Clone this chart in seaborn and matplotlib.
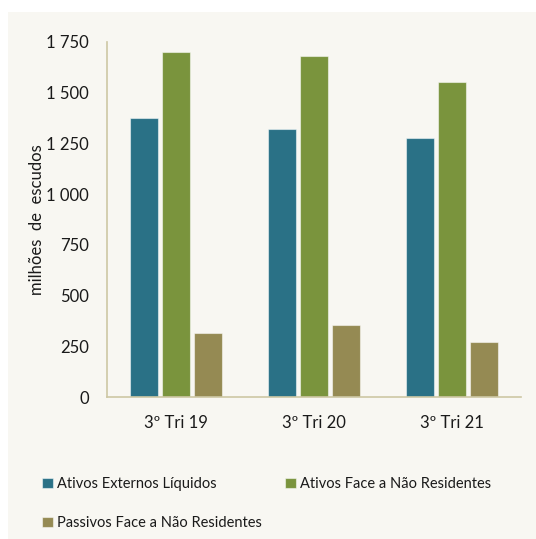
#!/usr/bin/env python3
"""Ativos externos líquidos — 3º trimestre, 2019-2021 (milhões de escudos)."""

import matplotlib
matplotlib.use("Agg")
import matplotlib.pyplot as plt
import pandas as pd
import seaborn as sns
from matplotlib.patches import Rectangle
from matplotlib.ticker import FuncFormatter

PERIODS = ["3º Tri 19", "3º Tri 20", "3º Tri 21"]
SERIES = [
    "Ativos Externos Líquidos",
    "Ativos Face a Não Residentes",
    "Passivos Face a Não Residentes",
]
ATIVOS_LIQUIDOS = [1377, 1321, 1278]
ATIVOS_NR = [1700, 1683, 1553]
PASSIVOS_NR = [317, 357, 273]
Y_TICKS = [0, 250, 500, 750, 1000, 1250, 1500, 1750]

COLORS = ["#2a7186", "#7a943d", "#958a53"]
BG = "#f8f7f2"
AXIS = "#cdc7a4"


def build_frame():
    rows = []
    for name, vals in zip(SERIES, [ATIVOS_LIQUIDOS, ATIVOS_NR, PASSIVOS_NR]):
        for period, v in zip(PERIODS, vals):
            rows.append({"periodo": period, "serie": name, "valor": v})
    return pd.DataFrame(rows)


def thousands(v, _pos):
    return f"{int(v):,}".replace(",", " ")


def main():
    sns.set_theme(style="white")
    plt.rcParams["font.family"] = ["Lato", "DejaVu Sans"]

    df = build_frame()
    fig = plt.figure(figsize=(5.36, 5.39), dpi=100, facecolor="white")
    fig.patches.append(Rectangle((8 / 536, 0), 1, 1 - 12 / 539, transform=fig.transFigure,
                                 facecolor=BG, edgecolor="none", zorder=-10))
    ax = fig.add_axes([107 / 536, 1 - 397 / 539, 414 / 536, 355 / 539])
    ax.set_facecolor(BG)

    sns.barplot(data=df, x="periodo", y="valor", hue="serie", order=PERIODS,
                hue_order=SERIES, palette=COLORS, width=0.7, gap=0.14,
                edgecolor=(1, 1, 1, 0.5), linewidth=0.8, saturation=1, ax=ax)

    ax.set_ylim(0, 1750)
    ax.set_xlim(-0.5, 2.5)
    ax.set_yticks(Y_TICKS)
    ax.yaxis.set_major_formatter(FuncFormatter(thousands))
    ax.tick_params(axis="both", length=0, labelsize=12, colors="#1a1a1a")
    ax.tick_params(axis="y", pad=13)
    ax.tick_params(axis="x", pad=13)
    ax.set_xlabel("")
    ax.set_ylabel("milhões  de  escudos", fontsize=12, color="#1a1a1a", labelpad=1)

    for side in ["top", "right"]:
        ax.spines[side].set_visible(False)
    for side in ["left", "bottom"]:
        ax.spines[side].set_color(AXIS)
        ax.spines[side].set_linewidth(1.2)

    handles, labels = ax.get_legend_handles_labels()
    ax.get_legend().remove()
    # row-wise order: legend fills columns first
    order = [0, 2, 1]
    fig.legend([handles[i] for i in order], [labels[i] for i in order], ncol=2,
               loc="upper left", bbox_to_anchor=(29 / 536, 1 - 464 / 539), frameon=False,
               fontsize=10.5, handlelength=0.75, handleheight=0.75,
               handletextpad=0.3, columnspacing=1.55, labelspacing=1.72,
               labelcolor="#1a1a1a")

    fig.savefig("out.png", dpi=100, facecolor="white")
    plt.close(fig)


if __name__ == "__main__":
    main()
